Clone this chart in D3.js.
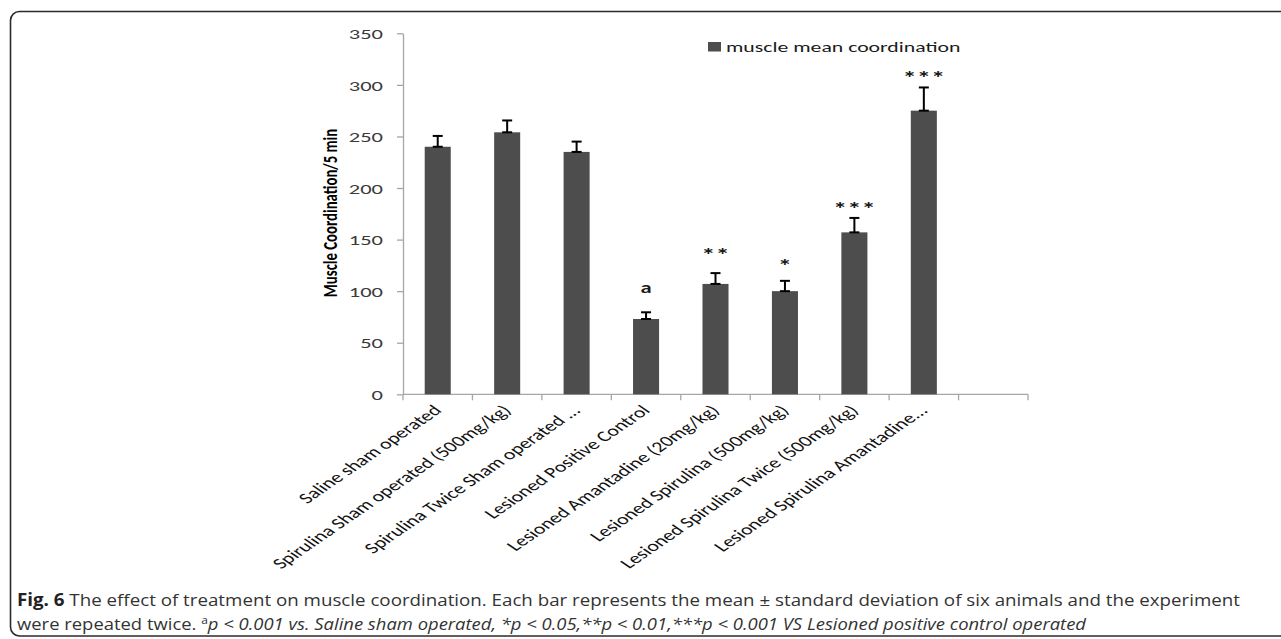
<!DOCTYPE html>
<html>
<head>
<meta charset="utf-8">
<script src="https://cdn.jsdelivr.net/npm/d3@7"></script>
<style>
body { margin: 0; background: #fff; }
svg { display: block; }
</style>
</head>
<body>
<script>
var w = 1281;
var h = 639;

// data
var categories = [
  "Saline sham operated",
  "Spirulina Sham operated (500mg/kg)",
  "Spirulina Twice Sham operated ...",
  "Lesioned Positive Control",
  "Lesioned Amantadine (20mg/kg)",
  "Lesioned Spirulina (500mg/kg)",
  "Lesioned Spirulina Twice (500mg/kg)",
  "Lesioned Spirulina Amantadine...",
  ""
];
var means = [240, 254, 235, 73, 107, 100, 157, 275];
var sds = [10.5, 11.5, 10, 6.5, 10.5, 10, 14, 22.5];
var marks = ["", "", "", "a", "**", "*", "***", "***"];
var markAt = [null, null, null, 103, 139, 128, 184, 311];   // value level of each mark
var yTicks = [0, 50, 100, 150, 200, 250, 300, 350];
var legendLabel = "muscle mean coordination";
var yTitle = "Muscle Coordination/5 min";

// the original figure is stretched sideways, so the text is too
var stretch = 1.5;
var font = "Carlito, Lato, sans-serif";

var svg = d3.select("body")
    .append("svg")
    .attr("width", w)
    .attr("height", h);

// figure frame
svg.append("rect")
    .attr("x", 10.5)
    .attr("y", 11.5)
    .attr("width", 1400)
    .attr("height", 624.5)
    .attr("rx", 9)
    .attr("fill", "none")
    .attr("stroke", "#2b2b2b")
    .attr("stroke-width", 1.6);

var x = d3.scaleBand()
    .domain(d3.range(categories.length))
    .range([403, 1028]);

var y = d3.scaleLinear()
    .domain([0, 350])
    .range([394.3, 33.3]);

var bw = x.bandwidth();
var barW = bw * 0.375;

// y axis
var yAxis = svg.append("g")
    .attr("transform", "translate(403,0)")
    .call(d3.axisLeft(y).tickValues(yTicks).tickSize(6).tickSizeOuter(0));

yAxis.select(".domain").attr("stroke", "#a6a6a6").attr("stroke-width", 1.3);
yAxis.selectAll(".tick line").attr("stroke", "#a6a6a6").attr("stroke-width", 1.3);
yAxis.selectAll(".tick text")
    .attr("x", null)
    .attr("dy", "0.35em")
    .attr("transform", "translate(-20,0) scale(" + stretch + ",1)")
    .attr("font-family", font)
    .attr("font-size", 15)
    .attr("fill", "#3a3a3a");

// x axis, ticks between the categories
var xAxis = svg.append("g");
xAxis.append("line")
    .attr("x1", x.range()[0])
    .attr("x2", x.range()[1])
    .attr("y1", y(0))
    .attr("y2", y(0))
    .attr("stroke", "#a6a6a6")
    .attr("stroke-width", 1.3);

var edges = categories.map(function(d, i){ return x(i); }).concat([x.range()[1]]);
xAxis.selectAll(".xtick")
    .data(edges)
    .enter()
    .append("line")
    .attr("class", "xtick")
    .attr("x1", function(d){ return d; })
    .attr("x2", function(d){ return d; })
    .attr("y1", y(0))
    .attr("y2", y(0) + 6)
    .attr("stroke", "#a6a6a6")
    .attr("stroke-width", 1.3);

xAxis.selectAll(".xlabel")
    .data(categories)
    .enter()
    .append("text")
    .attr("class", "xlabel")
    .attr("transform", function(d, i){
        return "translate(" + (x(i) + bw / 2 + 5) + "," + (y(0) + 17) + ") scale(1.46,1) rotate(-45)";
    })
    .attr("text-anchor", "end")
    .attr("font-family", font)
    .attr("font-size", 15)
    .attr("fill", "#111")
    .text(function(d){ return d; });

// y axis title
svg.append("text")
    .attr("transform", "translate(337,213) scale(1.35,1) rotate(-90)")
    .attr("text-anchor", "middle")
    .attr("font-family", font)
    .attr("font-weight", "bold")
    .attr("font-size", 14.8)
    .attr("fill", "#000")
    .text(yTitle);

// bars
svg.selectAll(".bar")
    .data(means)
    .enter()
    .append("rect")
    .attr("class", "bar")
    .attr("x", function(d, i){ return x(i) + (bw - barW) / 2; })
    .attr("width", barW)
    .attr("y", function(d){ return y(d); })
    .attr("height", function(d){ return y(0) - y(d); })
    .attr("fill", "#4d4d4d");

// error bars (upper side only)
var err = svg.selectAll(".err")
    .data(means)
    .enter()
    .append("g")
    .attr("class", "err")
    .attr("stroke", "#000")
    .attr("stroke-width", 2);

err.append("line")
    .attr("x1", function(d, i){ return x(i) + bw / 2; })
    .attr("x2", function(d, i){ return x(i) + bw / 2; })
    .attr("y1", function(d){ return y(d); })
    .attr("y2", function(d, i){ return y(d + sds[i]); });

err.append("line")
    .attr("x1", function(d, i){ return x(i) + bw / 2 - 5; })
    .attr("x2", function(d, i){ return x(i) + bw / 2 + 5; })
    .attr("y1", function(d, i){ return y(d + sds[i]); })
    .attr("y2", function(d, i){ return y(d + sds[i]); });

err.append("line")
    .attr("x1", function(d, i){ return x(i) + bw / 2 - 5; })
    .attr("x2", function(d, i){ return x(i) + bw / 2 + 5; })
    .attr("y1", function(d){ return y(d); })
    .attr("y2", function(d){ return y(d); });

// significance marks
var markData = marks.map(function(m, i){ return { m: m, i: i }; })
    .filter(function(d){ return d.m !== ""; });

svg.selectAll(".mark")
    .data(markData)
    .enter()
    .append("text")
    .attr("class", "mark")
    .attr("transform", function(d){
        var shift = d.m === "a" ? 5 : 10;
        return "translate(" + (x(d.i) + bw / 2) + "," + (y(markAt[d.i]) + shift) + ") scale(" + stretch + ",1)";
    })
    .attr("text-anchor", "middle")
    .attr("font-family", font)
    .attr("font-weight", "bold")
    .attr("font-size", function(d){ return d.m === "a" ? 15 : 19; })
    .attr("fill", "#1a1a1a")
    .text(function(d){ return d.m; });

// legend
svg.append("rect")
    .attr("x", 708)
    .attr("y", 42)
    .attr("width", 13)
    .attr("height", 9.5)
    .attr("fill", "#4d4d4d");

svg.append("text")
    .attr("transform", "translate(726,51.5) scale(1.45,1)")
    .attr("font-family", font)
    .attr("font-size", 15)
    .attr("fill", "#1a1a1a")
    .text(legendLabel);

// caption
var cap1 = svg.append("text")
    .attr("x", 17)
    .attr("y", 606)
    .attr("font-family", "'Open Sans', sans-serif")
    .attr("font-size", 17)
    .attr("fill", "#333")
    .attr("textLength", 1223)
    .attr("lengthAdjust", "spacingAndGlyphs");
cap1.append("tspan").attr("font-weight", "bold").attr("fill", "#222").text("Fig. 6");
cap1.append("tspan").text(" The effect of treatment on muscle coordination. Each bar represents the mean \u00b1 standard deviation of six animals and the experiment");

var cap2 = svg.append("text")
    .attr("x", 17)
    .attr("y", 630)
    .attr("font-family", "'Open Sans', sans-serif")
    .attr("font-size", 17)
    .attr("fill", "#333")
    .attr("textLength", 1069)
    .attr("lengthAdjust", "spacingAndGlyphs");
cap2.append("tspan").text("were repeated twice. ");
cap2.append("tspan").attr("font-size", 11).attr("dy", -6).text("a");
cap2.append("tspan").attr("font-style", "italic").attr("dy", 6)
    .text("p < 0.001 vs. Saline sham operated, *p < 0.05,**p < 0.01,***p < 0.001 VS Lesioned positive control operated");
</script>
</body>
</html>
